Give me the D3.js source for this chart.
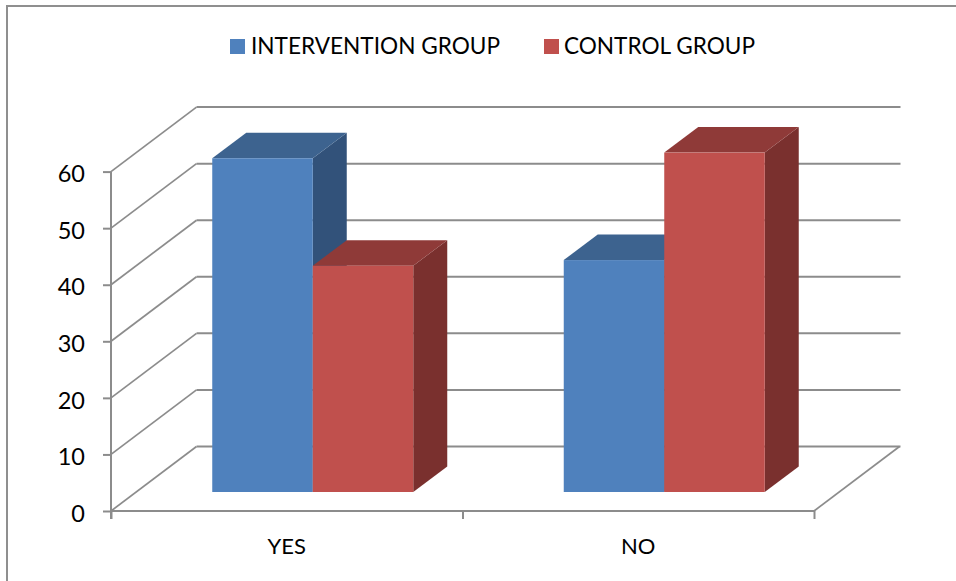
<!DOCTYPE html>
<html><head><meta charset="utf-8">
<script src="https://cdn.jsdelivr.net/npm/d3@7"></script>
<style>
html,body{margin:0;padding:0;background:#fff;overflow:hidden}
svg{display:block}
text{font-family:Lato,"Noto Sans",sans-serif;fill:#000}
</style></head><body>
<script>
const categories = ["YES","NO"];
const seriesNames = ["INTERVENTION GROUP","CONTROL GROUP"];
const interventionValues = [59,41];
const controlValues = [40,60];
const yTicks = [0,10,20,30,40,50,60];

const W=956,H=581;
const colors=[{front:"#4f81bd",top:"#3d638f",side:"#32527a"},{front:"#c0504d",top:"#8f3a38",side:"#7a302e"}];
const gridColor="#8c8c8c";
const svg=d3.select("body").append("svg").attr("width",W).attr("height",H);

// chart frame: only the top and left edges are visible in the crop
svg.append("path").attr("d",`M${W},6H7V${H}`).attr("fill","none")
  .attr("stroke","#8f8f8f").attr("stroke-width",2);

const x0=d3.scaleBand().domain(categories).range([111,814]);
const x1=d3.scaleBand().domain([0,1]).range([0,201]);
const y=d3.scaleLinear().domain([0,60]).range([511,171.6]);
const floorDX=85.5,floorDY=-64.5;
const barShiftX=26,barShiftY=-19;
const depthDX=34,depthDY=-25.6;

const g=svg.append("g");
yTicks.forEach(t=>{
  const yy=y(t);
  g.append("line").attr("x1",111).attr("y1",yy).attr("x2",111+floorDX).attr("y2",yy+floorDY)
    .attr("stroke",gridColor).attr("stroke-width",1.7);
  g.append("line").attr("x1",111+floorDX).attr("y1",yy+floorDY).attr("x2",814+floorDX+1).attr("y2",yy+floorDY)
    .attr("stroke",gridColor).attr("stroke-width",2);
});
g.append("line").attr("x1",814).attr("y1",y(0)).attr("x2",814+floorDX).attr("y2",y(0)+floorDY)
  .attr("stroke",gridColor).attr("stroke-width",1.7);

const yAxis=d3.axisLeft(y).tickValues(yTicks).tickSize(8).tickPadding(18);
const ya=svg.append("g").attr("transform","translate(111,0)").call(yAxis);
const xAxis=d3.axisBottom(d3.scaleLinear().domain([0,2]).range([111,814])).tickValues([0,1,2]).tickSize(8).tickFormat("");
const xa=svg.append("g").attr("transform",`translate(0,${y(0)})`).call(xAxis);
[ya,xa].forEach(a=>{a.selectAll("path").attr("stroke",gridColor).attr("stroke-width",2);
  a.selectAll("line").attr("stroke",gridColor).attr("stroke-width",2);});
ya.selectAll("text").attr("font-size",23.5).attr("dy","0.37em").attr("y",1.5).attr("fill","#000");
ya.selectAll("path").attr("d",`M0,${y(60)}V${y(0)+8}`);
xa.selectAll("path").attr("d",`M111,0H814`);

const gb=svg.append("g");
const order=[];
categories.forEach((c,i)=>{
  order.push({c,s:0,v:interventionValues[i]});
  order.push({c,s:1,v:controlValues[i]});
});
order.forEach(b=>{
  const xl=x0(b.c)+(x0.bandwidth()-201)/2+x1(b.s)+barShiftX;
  const xr=xl+x1.bandwidth();
  const yb=y(0)+barShiftY, yt=y(b.v)+barShiftY;
  const col=colors[b.s];
  const poly=p=>gb.append("polygon").attr("points",p.map(q=>q.join(",")).join(" "));
  poly([[xr,yt],[xr+depthDX,yt+depthDY],[xr+depthDX,yb+depthDY],[xr,yb]]).attr("fill",col.side);
  poly([[xl,yt],[xl+depthDX,yt+depthDY],[xr+depthDX,yt+depthDY],[xr,yt]]).attr("fill",col.top);
  gb.append("rect").attr("x",xl).attr("y",yt).attr("width",xr-xl).attr("height",yb-yt).attr("fill",col.front);
});

svg.append("g").selectAll("text").data(categories).join("text")
  .attr("x",d=>x0(d)+x0.bandwidth()/2).attr("y",553.5).attr("text-anchor","middle")
  .attr("font-size",22).text(d=>d);

const legendX=[230,544], textX=[251,564], textW=[249,191];
seriesNames.forEach((n,i)=>{
  svg.append("rect").attr("x",legendX[i]).attr("y",39).attr("width",15).attr("height",15).attr("fill",colors[i].front);
  svg.append("text").attr("x",textX[i]).attr("y",54).attr("font-size",23.5)
    .attr("textLength",textW[i]).attr("lengthAdjust","spacingAndGlyphs").text(n);
});
</script></body></html>
